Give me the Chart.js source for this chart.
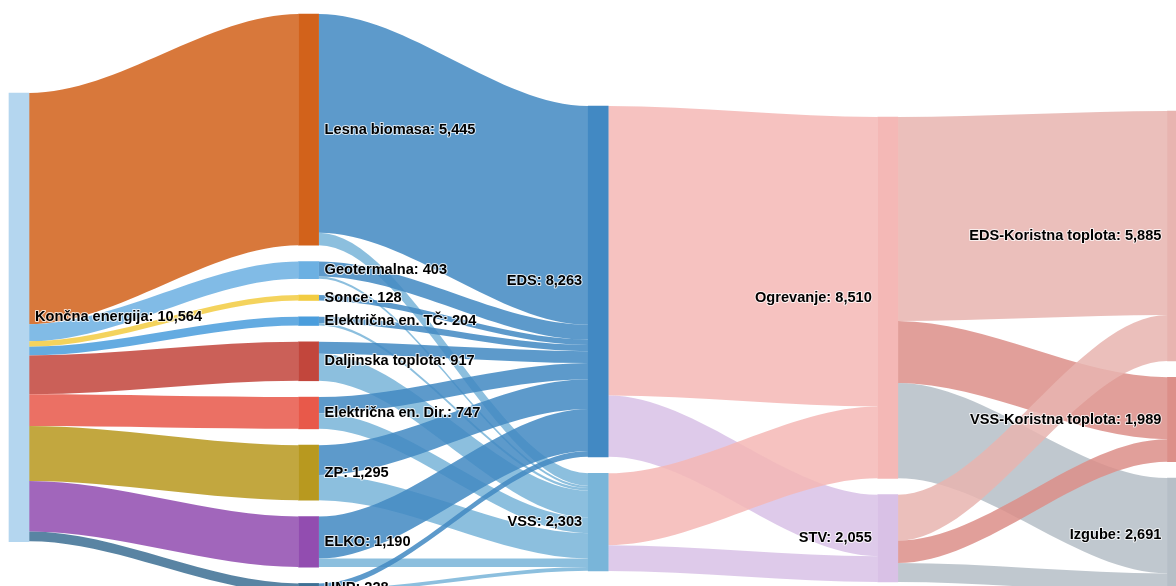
<!DOCTYPE html>
<html>
<head>
<meta charset="utf-8">
<script src="https://cdn.jsdelivr.net/npm/chart.js@4.4.1/dist/chart.umd.min.js"></script>
<style>
  html, body { margin: 0; padding: 0; background: #fff; }
  #wrap { width: 1176px; height: 586px; position: relative; }
</style>
</head>
<body>
<div id="wrap"><canvas id="sankey"></canvas></div>
<script>
// nodes (label value as shown on the chart)
const nodeNames = [
  'Končna energija',
  'Lesna biomasa', 'Geotermalna', 'Sonce', 'Električna en. TČ', 'Daljinska toplota',
  'Električna en. Dir.', 'ZP', 'ELKO', 'UNP',
  'EDS', 'VSS',
  'Ogrevanje', 'STV',
  'EDS-Koristna toplota', 'VSS-Koristna toplota', 'Izgube'
];
const nodeValues = [10564, 5445, 403, 128, 204, 917, 747, 1295, 1190, 228, 8263, 2303, 8510, 2055, 5885, 1989, 2691];
const nodeColumn = [0, 1, 1, 1, 1, 1, 1, 1, 1, 1, 2, 2, 3, 3, 4, 4, 4];

// flows
const linkFrom = [
  'Končna energija', 'Končna energija', 'Končna energija', 'Končna energija', 'Končna energija',
  'Končna energija', 'Končna energija', 'Končna energija', 'Končna energija',
  'Lesna biomasa', 'Lesna biomasa', 'Geotermalna', 'Geotermalna', 'Sonce',
  'Električna en. TČ', 'Električna en. TČ', 'Daljinska toplota', 'Daljinska toplota',
  'Električna en. Dir.', 'Električna en. Dir.', 'ZP', 'ZP', 'ELKO', 'ELKO', 'UNP', 'UNP',
  'EDS', 'EDS', 'VSS', 'VSS',
  'Ogrevanje', 'Ogrevanje', 'Ogrevanje', 'STV', 'STV', 'STV'
];
const linkTo = [
  'Lesna biomasa', 'Geotermalna', 'Sonce', 'Električna en. TČ', 'Daljinska toplota',
  'Električna en. Dir.', 'ZP', 'ELKO', 'UNP',
  'EDS', 'VSS', 'EDS', 'VSS', 'EDS',
  'EDS', 'VSS', 'EDS', 'VSS',
  'EDS', 'VSS', 'EDS', 'VSS', 'EDS', 'VSS', 'EDS', 'VSS',
  'Ogrevanje', 'STV', 'Ogrevanje', 'STV',
  'EDS-Koristna toplota', 'VSS-Koristna toplota', 'Izgube',
  'EDS-Koristna toplota', 'VSS-Koristna toplota', 'Izgube'
];
const linkValues = [
  5445, 403, 128, 204, 917, 747, 1295, 1190, 228,
  5150, 295, 350, 53, 128,
  145, 59, 280, 637,
  380, 367, 700, 595, 990, 200, 140, 88,
  6815, 1447, 1695, 608,
  4805, 1459, 2246, 1080, 530, 445
];

const nodeColors = [
  '#b4d6ef',
  '#d2621b', '#6cb0e2', '#f2cc42', '#4a9ddc', '#c2463c',
  '#e8594a', '#b8991f', '#924db0', '#3e7094',
  '#4289c3', '#79b5d9',
  '#f4b8b6', '#d9c1e6',
  '#e8b4b0', '#dc8f89', '#b6bfc7'
];

// layout (value units on the y axis)
const columnTop = [2190, 330, 2496, 2755, 2614];
const NODE_PAD = 385;
const NODE_W = 20;
const LINK_ALPHA = 0.86;
const CURVE = 0.33;

const nodeTop = [];
const cursor = columnTop.slice();
nodeNames.forEach((n, i) => {
  const c = nodeColumn[i];
  nodeTop[i] = cursor[c];
  cursor[c] += nodeValues[i] + NODE_PAD;
});

const outOff = nodeTop.slice();
const inOff = nodeTop.slice();
const links = linkValues.map((v, i) => {
  const f = nodeNames.indexOf(linkFrom[i]);
  const t = nodeNames.indexOf(linkTo[i]);
  const l = { f, t, v, y0: outOff[f], y1: inOff[t] };
  outOff[f] += v;
  inOff[t] += v;
  return l;
});

function rgba(hex, a) {
  const n = parseInt(hex.slice(1), 16);
  return `rgba(${n >> 16}, ${(n >> 8) & 255}, ${n & 255}, ${a})`;
}

const sankeyLinks = {
  id: 'sankeyLinks',
  beforeDatasetsDraw(chart) {
    const { ctx, scales: { x, y } } = chart;
    ctx.save();
    links.forEach(l => {
      const x0 = x.getPixelForValue(nodeColumn[l.f]) + NODE_W / 2;
      const x1 = x.getPixelForValue(nodeColumn[l.t]) - NODE_W / 2;
      const a0 = y.getPixelForValue(l.y0), b0 = y.getPixelForValue(l.y0 + l.v);
      const a1 = y.getPixelForValue(l.y1), b1 = y.getPixelForValue(l.y1 + l.v);
      const cv = (x1 - x0) * CURVE;
      ctx.beginPath();
      ctx.moveTo(x0, a0);
      ctx.bezierCurveTo(x0 + cv, a0, x1 - cv, a1, x1, a1);
      ctx.lineTo(x1, b1);
      ctx.bezierCurveTo(x1 - cv, b1, x0 + cv, b0, x0, b0);
      ctx.closePath();
      ctx.fillStyle = rgba(nodeColors[l.t], LINK_ALPHA);
      ctx.fill();
    });
    ctx.restore();
  }
};

const nodeLabels = {
  id: 'nodeLabels',
  afterDatasetsDraw(chart) {
    const { ctx, scales: { x, y } } = chart;
    ctx.save();
    ctx.font = 'bold 14.6px "Liberation Sans", Arial, sans-serif';
    ctx.textBaseline = 'middle';
    ctx.lineJoin = 'round';
    ctx.lineWidth = 2;
    ctx.strokeStyle = 'rgba(255,255,255,0.75)';
    ctx.fillStyle = '#000';
    nodeNames.forEach((name, i) => {
      const c = nodeColumn[i];
      const cx = x.getPixelForValue(c);
      const cy = y.getPixelForValue(nodeTop[i] + nodeValues[i] / 2);
      const text = `${name}: ${nodeValues[i].toLocaleString('en-US')}`;
      let tx;
      if (c < 2) {
        ctx.textAlign = 'left';
        tx = cx + NODE_W / 2 + 6;
      } else {
        ctx.textAlign = 'right';
        tx = cx - NODE_W / 2 - 6;
      }
      ctx.strokeText(text, tx, cy);
      ctx.fillText(text, tx, cy);
    });
    ctx.restore();
  }
};

const nodeBars = nodeNames.map((n, i) => ({ x: nodeColumn[i], y: [nodeTop[i], nodeTop[i] + nodeValues[i]] }));

new Chart(document.getElementById('sankey'), {
  type: 'bar',
  data: {
    datasets: [{
      data: nodeBars,
      backgroundColor: nodeColors,
      borderWidth: 0,
      borderSkipped: false,
      barThickness: NODE_W
    }]
  },
  options: {
    responsive: true,
    maintainAspectRatio: false,
    animation: false,
    events: [],
    layout: { padding: 0 },
    scales: {
      x: { type: 'linear', min: -0.06561, max: 3.99516, offset: false, display: false },
      y: { type: 'linear', min: 0, max: 13800, reverse: true, display: false }
    },
    plugins: {
      legend: { display: false },
      tooltip: { enabled: false }
    }
  },
  plugins: [sankeyLinks, nodeLabels]
});
</script>
</body>
</html>
